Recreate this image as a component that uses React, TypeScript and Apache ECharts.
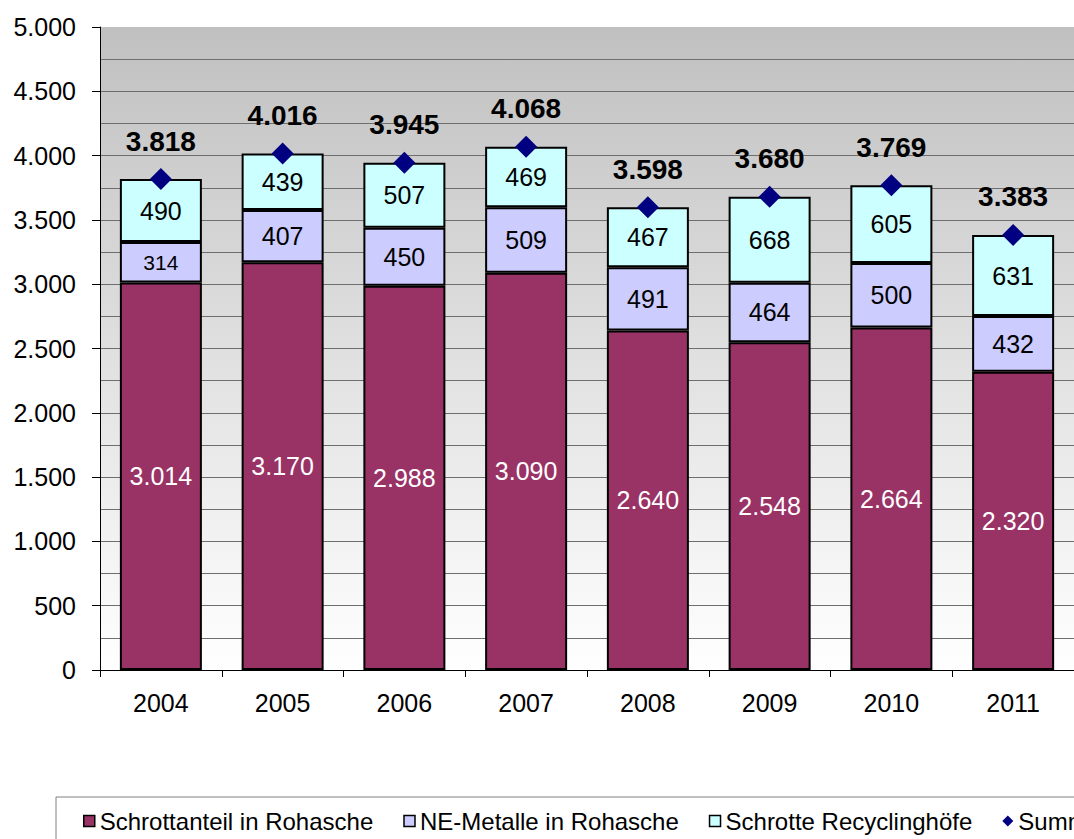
import React, { useEffect, useRef } from "react";
import * as echarts from "echarts";

const years = ["2004", "2005", "2006", "2007", "2008", "2009", "2010", "2011"];
const schrottanteil = [3014, 3170, 2988, 3090, 2640, 2548, 2664, 2320];
const neMetalle = [314, 407, 450, 509, 491, 464, 500, 432];
const recycling = [490, 439, 507, 469, 467, 668, 605, 631];
const summe = [3818, 4016, 3945, 4068, 3598, 3680, 3769, 3383];

const seriesNames = [
  "Schrottanteil in Rohasche",
  "NE-Metalle in Rohasche",
  "Schrotte Recyclinghöfe",
  "Summe",
];

const FONT = "'Liberation Sans', Arial, sans-serif";

const fmt = (v: number) => String(Math.round(v)).replace(/\B(?=(\d{3})+(?!\d))/g, ".");

export default function App() {
  const ref = useRef<HTMLDivElement>(null);
  useEffect(() => {
    if (!ref.current) return;
    const chart = echarts.init(ref.current, null, { renderer: "svg" });
    const barCommon = (color: string) => ({
      type: "bar",
      stack: "total",
      barWidth: 82,
      itemStyle: { color, borderColor: "#000", borderWidth: 2 },
    });
    chart.setOption({
      animation: false,
      backgroundColor: "#ffffff",
      textStyle: { fontFamily: FONT },
      grid: {
        left: 100,
        top: 27,
        width: 980,
        height: 643,
        show: true,
        borderWidth: 0,
        backgroundColor: {
          type: "linear",
          x: 0,
          y: 0,
          x2: 0,
          y2: 1,
          colorStops: [
            { offset: 0, color: "#c0c0c0" },
            { offset: 1, color: "#ffffff" },
          ],
        },
      },
      legend: {
        left: 56,
        top: 797,
        width: 1400,
        padding: [12, 10, 30, 27],
        itemGap: 30,
        itemWidth: 11,
        itemHeight: 11,
        borderColor: "#808080",
        borderWidth: 1,
        textStyle: { fontSize: 24, fontFamily: FONT, color: "#000" },
        data: [
          { name: seriesNames[0], icon: "rect", itemStyle: { borderColor: "#000", borderWidth: 1.5 } },
          { name: seriesNames[1], icon: "rect", itemStyle: { borderColor: "#000", borderWidth: 1.5 } },
          { name: seriesNames[2], icon: "rect", itemStyle: { borderColor: "#000", borderWidth: 1.5 } },
          { name: seriesNames[3], icon: "diamond", itemStyle: { borderWidth: 0 } },
        ],
      },
      xAxis: {
        type: "category",
        data: years,
        axisLine: { show: true, lineStyle: { color: "#000", width: 1 } },
        axisTick: { show: true, length: 7, lineStyle: { color: "#000" } },
        axisLabel: { fontSize: 25, fontFamily: FONT, color: "#000", margin: 20 },
        splitLine: { show: false },
      },
      yAxis: {
        type: "value",
        min: 0,
        max: 5000,
        interval: 500,
        axisLine: { show: true, lineStyle: { color: "#000", width: 1 } },
        axisTick: { show: true, length: 8, lineStyle: { color: "#000" } },
        axisLabel: {
          fontSize: 25,
          fontFamily: FONT,
          color: "#000",
          margin: 24,
          formatter: (v: number) => fmt(v),
        },
        splitLine: { show: true, showMaxLine: false, lineStyle: { color: "#6e6e6e", width: 1 } },
        minorTick: { show: false, splitNumber: 2 },
        minorSplitLine: { show: true, lineStyle: { color: "#6e6e6e", width: 1 } },
      },
      series: [
        {
          ...barCommon("#993366"),
          name: seriesNames[0],
          data: schrottanteil,
          label: {
            show: true,
            position: "inside",
            color: "#ffffff",
            fontSize: 25,
            fontFamily: FONT,
            formatter: (p: any) => fmt(p.value),
          },
        },
        {
          ...barCommon("#ccccff"),
          name: seriesNames[1],
          data: neMetalle.map((v) => (v < 400 ? { value: v, label: { fontSize: 21 } } : v)),
          label: {
            show: true,
            position: "inside",
            color: "#000",
            fontSize: 25,
            fontFamily: FONT,
            formatter: (p: any) => fmt(p.value),
          },
        },
        {
          ...barCommon("#ccffff"),
          name: seriesNames[2],
          data: recycling,
          label: {
            show: true,
            position: "inside",
            color: "#000",
            fontSize: 25,
            fontFamily: FONT,
            formatter: (p: any) => fmt(p.value),
          },
        },
        {
          type: "line",
          name: seriesNames[3],
          data: summe,
          symbol: "diamond",
          symbolSize: 22,
          z: 10,
          lineStyle: { width: 0, opacity: 0 },
          itemStyle: { color: "#000080" },
          label: {
            show: true,
            position: "top",
            distance: 13,
            color: "#000",
            fontSize: 28,
            fontWeight: "bold",
            fontFamily: FONT,
            formatter: (p: any) => fmt(p.value),
          },
        },
      ],
    });
    return () => chart.dispose();
  }, []);
  return (
    <div
      ref={ref}
      style={{ position: "fixed", left: 0, top: 0, width: 1074, height: 839 }}
    />
  );
}
